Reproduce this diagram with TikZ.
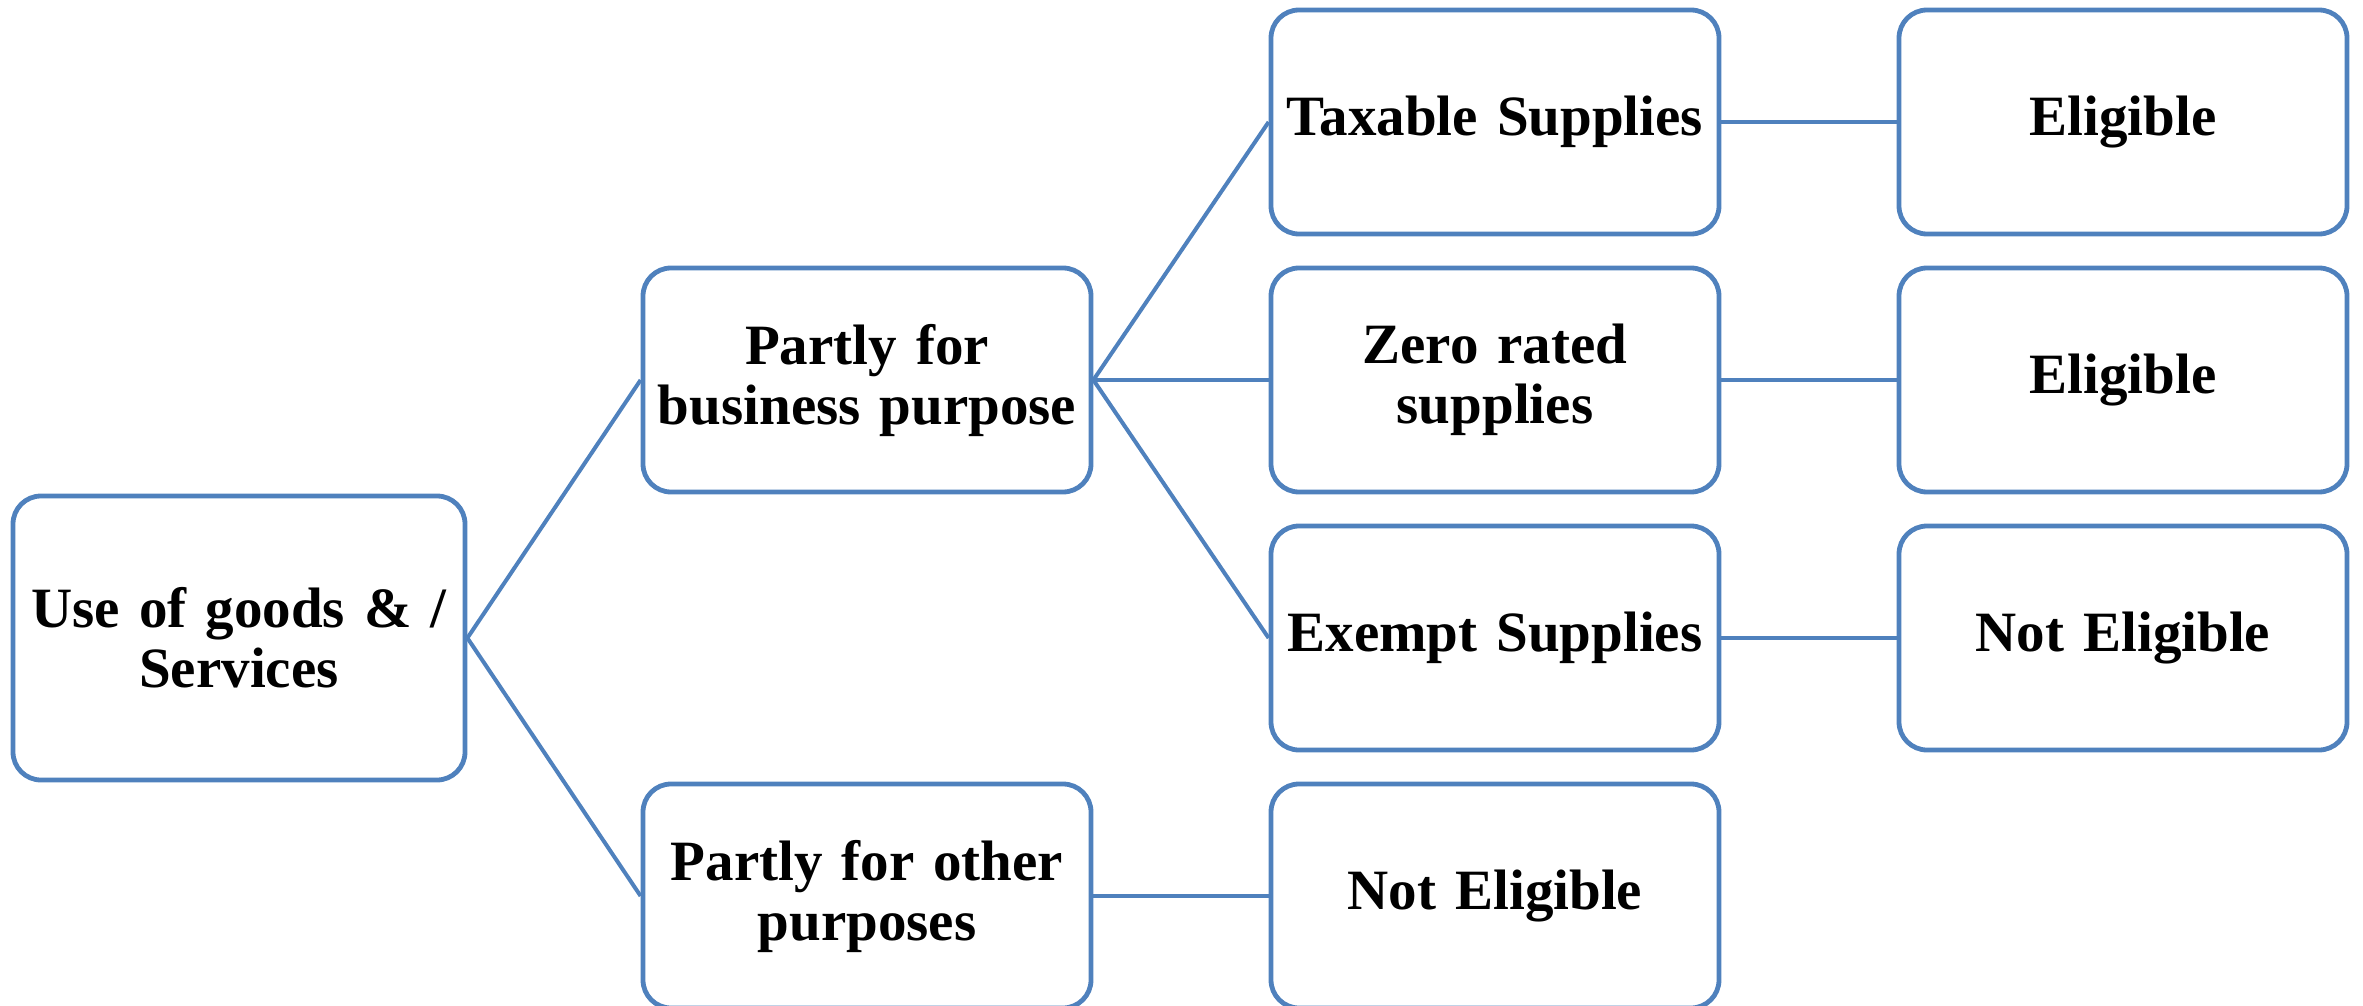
\documentclass[tikz,border=0pt]{standalone}
\usepackage{fontspec}
\setmainfont{Liberation Serif}
\definecolor{boxblue}{HTML}{4F81BD}
\tikzset{
  flowbox/.style={draw=boxblue, line width=2.4pt, rounded corners=14pt,
    fill=white, align=center, inner sep=0pt, minimum width=224pt,
    minimum height=112pt, text width=222pt,
    font=\fontsize{28.5}{30}\selectfont\bfseries},
  rootbox/.style={flowbox, minimum width=226pt, minimum height=142pt},
  link/.style={draw=boxblue, line width=2pt}
}
\begin{document}
\begin{tikzpicture}[x=0.5pt, y=-0.5pt]
  \useasboundingbox (0,0) rectangle (2363,1006);

  % first level
  \node[rootbox] (use) at (239,638) {Use of goods \& /\\ Services};

  % second level
  \node[flowbox] (business) at (867,380) {Partly for\\ business purpose};
  \node[flowbox] (other) at (867,896) {Partly for other\\ purposes};

  % kinds of supply
  \node[flowbox] (taxable) at (1495,122) {Taxable Supplies};
  \node[flowbox] (zero) at (1495,380) {Zero rated\\ supplies};
  \node[flowbox] (exempt) at (1495,638) {Exempt Supplies};
  \node[flowbox] (otherres) at (1495,896) {Not Eligible};

  % outcomes
  \node[flowbox] (taxres) at (2123,122) {Eligible};
  \node[flowbox] (zerores) at (2123,380) {Eligible};
  \node[flowbox] (exres) at (2123,638) {Not Eligible};

  % connectors
  \draw[link] (use.east) -- (business.west);
  \draw[link] (use.east) -- (other.west);
  \draw[link] (business.east) -- (taxable.west);
  \draw[link] (business.east) -- (zero.west);
  \draw[link] (business.east) -- (exempt.west);
  \draw[link] (other.east) -- (otherres.west);
  \draw[link] (taxable.east) -- (taxres.west);
  \draw[link] (zero.east) -- (zerores.west);
  \draw[link] (exempt.east) -- (exres.west);
\end{tikzpicture}
\end{document}
